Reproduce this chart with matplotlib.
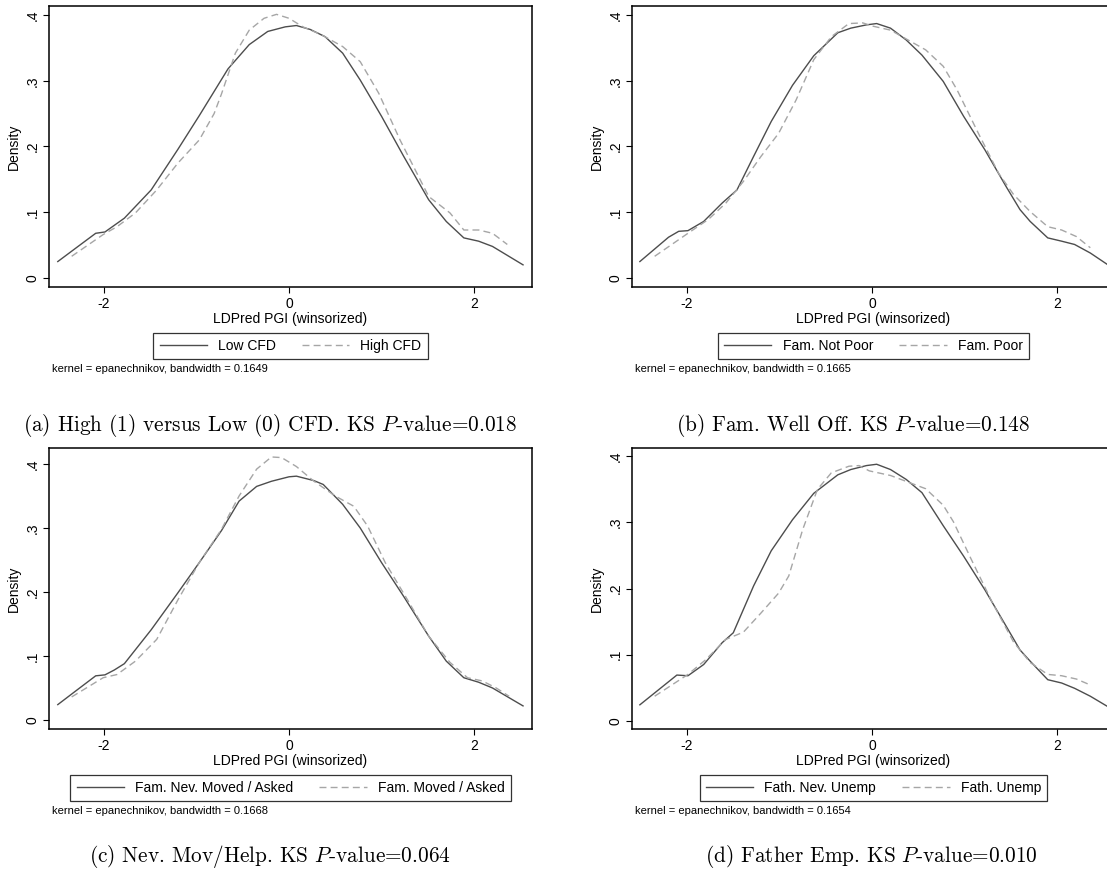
import matplotlib.pyplot as plt

plt.rcParams['font.family'] = ['Liberation Sans', 'DejaVu Sans']
plt.rcParams['mathtext.fontset'] = 'cm'
plt.rcParams['axes.unicode_minus'] = False

# (a) High vs Low CFD
xa_low = [-2.50, -2.30, -2.09, -1.99, -1.78, -1.49, -1.20, -0.97, -0.66, -0.43, -0.23, -0.04, 0.08,
          0.23, 0.39, 0.58, 0.77, 1.00, 1.24, 1.51, 1.70, 1.89, 2.05, 2.20, 2.53]
ya_low = [0.025, 0.046, 0.068, 0.070, 0.091, 0.134, 0.196, 0.247, 0.318, 0.355, 0.375, 0.382, 0.384,
          0.378, 0.367, 0.342, 0.301, 0.246, 0.185, 0.119, 0.086, 0.061, 0.056, 0.048, 0.020]
xa_high = [-2.35, -2.01, -1.86, -1.66, -1.43, -1.20, -0.97, -0.81, -0.73, -0.58, -0.43, -0.27, -0.135,
           0.00, 0.15, 0.35, 0.58, 0.77, 0.97, 1.20, 1.51, 1.74, 1.89, 2.05, 2.20, 2.36]
ya_high = [0.033, 0.066, 0.078, 0.099, 0.134, 0.175, 0.210, 0.250, 0.280, 0.342, 0.377, 0.395, 0.401,
           0.395, 0.382, 0.370, 0.352, 0.329, 0.281, 0.210, 0.124, 0.099, 0.073, 0.073, 0.068, 0.051]

# (b) Fam. Well Off
xb_notpoor = [-2.51, -2.20, -2.09, -1.99, -1.82, -1.62, -1.46, -1.28, -1.09, -0.86, -0.63, -0.37, -0.23,
              -0.06, 0.05, 0.20, 0.37, 0.54, 0.77, 0.99, 1.22, 1.45, 1.60, 1.71, 1.90, 2.05, 2.19, 2.36, 2.54]
yb_notpoor = [0.025, 0.062, 0.071, 0.072, 0.086, 0.114, 0.134, 0.185, 0.238, 0.293, 0.338, 0.373, 0.380,
              0.385, 0.387, 0.380, 0.362, 0.339, 0.299, 0.246, 0.195, 0.139, 0.104, 0.086, 0.061, 0.056, 0.051, 0.038, 0.021]
xb_poor = [-2.35, -1.99, -1.77, -1.58, -1.39, -1.20, -1.01, -0.82, -0.63, -0.44, -0.25, -0.10, 0.01,
           0.20, 0.39, 0.58, 0.77, 0.92, 1.15, 1.37, 1.53, 1.71, 1.90, 2.05, 2.21, 2.36]
yb_poor = [0.033, 0.068, 0.089, 0.114, 0.147, 0.185, 0.220, 0.271, 0.332, 0.367, 0.387, 0.388, 0.383,
           0.377, 0.362, 0.347, 0.322, 0.286, 0.220, 0.159, 0.127, 0.101, 0.078, 0.073, 0.063, 0.046]

# (c) Nev. Mov/Help
xc_never = [-2.50, -2.30, -2.09, -1.99, -1.89, -1.78, -1.49, -1.20, -0.97, -0.73, -0.54, -0.35, -0.19,
            0.00, 0.08, 0.27, 0.37, 0.58, 0.77, 1.00, 1.24, 1.51, 1.70, 1.89, 2.05, 2.20, 2.53]
yc_never = [0.024, 0.046, 0.069, 0.0705, 0.078, 0.088, 0.141, 0.199, 0.246, 0.296, 0.342, 0.365, 0.373,
            0.380, 0.381, 0.374, 0.368, 0.337, 0.300, 0.246, 0.193, 0.131, 0.092, 0.066, 0.059, 0.050, 0.022]
xc_moved = [-2.35, -2.01, -1.86, -1.66, -1.43, -1.20, -0.97, -0.73, -0.54, -0.35, -0.19, -0.08, 0.08,
            0.27, 0.50, 0.70, 0.85, 1.04, 1.28, 1.51, 1.74, 1.93, 2.09, 2.24, 2.38]
yc_moved = [0.036, 0.066, 0.071, 0.092, 0.126, 0.188, 0.246, 0.298, 0.350, 0.392, 0.411, 0.410, 0.396,
            0.373, 0.350, 0.334, 0.303, 0.246, 0.188, 0.131, 0.090, 0.066, 0.061, 0.050, 0.037]

# (d) Father Emp.
xd_never = [-2.51, -2.11, -1.99, -1.82, -1.62, -1.50, -1.28, -1.09, -0.86, -0.63, -0.37, -0.23, -0.06,
            0.05, 0.20, 0.37, 0.54, 0.77, 0.99, 1.22, 1.45, 1.60, 1.71, 1.90, 2.05, 2.19, 2.36, 2.54]
yd_never = [0.024, 0.069, 0.068, 0.085, 0.118, 0.133, 0.204, 0.257, 0.304, 0.344, 0.372, 0.380, 0.386,
            0.388, 0.380, 0.365, 0.345, 0.295, 0.249, 0.198, 0.143, 0.107, 0.090, 0.062, 0.057, 0.049, 0.037, 0.022]
xd_unemp = [-2.35, -1.99, -1.80, -1.58, -1.39, -1.20, -1.01, -0.90, -0.75, -0.59, -0.44, -0.25, -0.14,
            -0.03, 0.20, 0.39, 0.58, 0.77, 0.88, 1.07, 1.30, 1.53, 1.71, 1.90, 2.05, 2.21, 2.36]
yd_unemp = [0.037, 0.070, 0.092, 0.123, 0.134, 0.163, 0.193, 0.219, 0.289, 0.350, 0.375, 0.385, 0.386,
            0.378, 0.371, 0.361, 0.351, 0.326, 0.301, 0.245, 0.179, 0.119, 0.088, 0.070, 0.068, 0.063, 0.054]

panels = [
    (xa_low, ya_low, xa_high, ya_high, 'Low CFD', 'High CFD', '0.1649',
     r'(a) High (1) versus Low (0) CFD. KS $P$-value=0.018'),
    (xb_notpoor, yb_notpoor, xb_poor, yb_poor, 'Fam. Not Poor', 'Fam. Poor', '0.1665',
     r'(b) Fam. Well Off. KS $P$-value=0.148'),
    (xc_never, yc_never, xc_moved, yc_moved, 'Fam. Nev. Moved / Asked', 'Fam. Moved / Asked', '0.1668',
     r'(c) Nev. Mov/Help. KS $P$-value=0.064'),
    (xd_never, yd_never, xd_unemp, yd_unemp, 'Fath. Nev. Unemp', 'Fath. Unemp', '0.1654',
     r'(d) Father Emp. KS $P$-value=0.010'),
]

W, H = 1107, 873
fig = plt.figure(figsize=(W / 100, H / 100), dpi=100)

# frame position in pixels: left, top; width/height shared
lefts = [49, 632, 49, 632]
tops = [6, 6, 448, 448]
ylims = [(-0.0137, 0.4137), (-0.0137, 0.4137), (-0.0141, 0.425), (-0.0126, 0.4126)]
cap_x = [270, 853, 270, 871]
cap_y = [425, 425, 857, 857]
fw, fh = 483, 281

for i, (x1, y1, x2, y2, lab1, lab2, bw, cap) in enumerate(panels):
    ax = fig.add_axes([lefts[i] / W, 1 - (tops[i] + fh) / H, fw / W, fh / H])
    ax.plot(x1, y1, color='#4d4d4d', lw=1.0, label=lab1)
    ax.plot(x2, y2, color='#a6a6a6', lw=1.0, dashes=(5, 3), label=lab2)
    ax.set_xlim(-2.595, 2.627)
    ax.set_ylim(*ylims[i])
    ax.set_xticks([-2, 0, 2])
    ax.set_xticklabels(['-2', '0', '2'])
    ax.set_yticks([0, 0.1, 0.2, 0.3, 0.4])
    ax.set_yticklabels(['0', '.1', '.2', '.3', '.4'], rotation=90, va='center')
    ax.tick_params(length=4, width=0.8, labelsize=10, pad=3)
    for s in ax.spines.values():
        s.set_linewidth(1.1)
    ax.set_xlabel('LDPred PGI (winsorized)', fontsize=10, labelpad=1)
    ax.set_ylabel('Density', fontsize=10, labelpad=3)
    leg = ax.legend(loc='upper center', bbox_to_anchor=(0.5, -0.162), bbox_transform=ax.transAxes,
                    ncol=2, fontsize=10, frameon=True, fancybox=False, borderaxespad=0,
                    handlelength=3.4, handletextpad=0.8, columnspacing=1.9, borderpad=0.45)
    leg.get_frame().set_edgecolor('black')
    leg.get_frame().set_linewidth(0.9)
    ax.text(0.006, -0.292, 'kernel = epanechnikov, bandwidth = ' + bw, transform=ax.transAxes,
            fontsize=8, va='center', ha='left')
    fig.text(cap_x[i] / W, 1 - cap_y[i] / H, cap, family='cmr10', fontsize=15.3,
             ha='center', va='center')

fig.savefig('out.png', dpi=100, facecolor='white')
